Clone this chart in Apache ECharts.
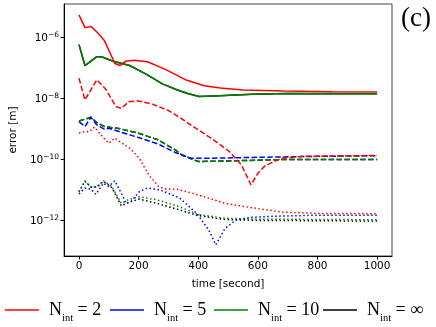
<!DOCTYPE html>
<html>
<head>
<meta charset="utf-8">
<script src="https://cdn.jsdelivr.net/npm/echarts@6/dist/echarts.min.js"></script>
<style>
  html, body { margin: 0; padding: 0; background: #fff; }
  #chart { width: 436px; height: 327px; }
</style>
</head>
<body>
<div id="chart"></div>
<script>
// [time (s), error (m)]
const n2Solid = [[0, 5.5e-6], [20, 2.1e-6], [40, 2.3e-6], [60, 1.5e-6], [85, 8.0e-7], [113, 2.0e-7],
  [120, 1.4e-7], [138, 1.2e-7], [155, 1.65e-7], [185, 1.8e-7], [230, 1.6e-7], [295, 8.5e-8], [360, 4.0e-8],
  [420, 2.6e-8], [475, 2.2e-8], [550, 1.9e-8], [685, 1.75e-8], [850, 1.65e-8], [1000, 1.62e-8]];
const n10Solid = [[0, 5.8e-7], [20, 1.2e-7], [60, 2.35e-7], [80, 2.25e-7], [115, 1.65e-7], [170, 1.2e-7],
  [225, 6.3e-8], [280, 3.0e-8], [330, 1.9e-8], [365, 1.45e-8], [403, 1.15e-8], [470, 1.23e-8],
  [580, 1.38e-8], [700, 1.45e-8], [1000, 1.42e-8]];
const infSolid = n10Solid; // hidden under the green line

const n2Dash = [[0, 4.6e-8], [20, 8.9e-9], [60, 4.1e-8], [90, 2.0e-8], [124, 5.4e-9], [142, 4.7e-9],
  [167, 7.8e-9], [200, 8.3e-9], [248, 6.4e-9], [300, 4.0e-9], [327, 2.8e-9], [380, 1.25e-9],
  [443, 5.0e-10], [505, 1.8e-10], [545, 6.6e-11], [577, 1.45e-11], [600, 3.5e-11], [625, 6.3e-11],
  [680, 1.1e-10], [750, 1.26e-10], [1000, 1.35e-10]];
const n5Dash = [[0, 1.74e-9], [20, 1.2e-9], [40, 2.4e-9], [60, 1.35e-9], [85, 9.8e-10], [100, 1.05e-9],
  [140, 7.9e-10], [200, 5.2e-10], [265, 3.2e-10], [325, 1.66e-10], [375, 1.1e-10], [450, 1.1e-10],
  [600, 1.17e-10], [800, 1.26e-10], [1000, 1.32e-10]];
const n10Dash = [[0, 1.82e-9], [40, 2.4e-9], [60, 1.6e-9], [85, 1.2e-9], [140, 1.0e-9], [200, 7.2e-10],
  [265, 4.4e-10], [325, 2.0e-10], [345, 1.4e-10], [400, 8.5e-11], [500, 8.9e-11], [700, 1.0e-10],
  [1000, 1.0e-10]];
const infDash = n10Dash; // hidden under the green line

const n2Dot = [[0, 7.2e-10], [17, 8.1e-10], [35, 8.1e-10], [52, 1.15e-9], [83, 5.0e-10], [100, 3.4e-10],
  [120, 5.0e-10], [137, 3.8e-10], [170, 2.35e-10], [202, 1.1e-10], [234, 3.1e-11], [267, 1.29e-11],
  [290, 1.07e-11], [330, 1.05e-11], [380, 7.8e-12], [445, 5.0e-12], [490, 3.6e-12], [580, 2.6e-12],
  [685, 1.86e-12], [800, 1.7e-12], [1000, 1.66e-12]];
const n5Dot = [[0, 7.4e-12], [20, 1.15e-11], [40, 1.05e-11], [57, 7.2e-12], [82, 1.66e-11], [99, 1.29e-11],
  [120, 2.0e-11], [142, 7.8e-12], [158, 3.6e-12], [175, 4.2e-12], [202, 8.7e-12], [230, 1.15e-11],
  [272, 1.0e-11], [338, 5.4e-12], [397, 1.62e-12], [435, 4.9e-13], [459, 1.58e-13], [490, 5.5e-13],
  [528, 1.05e-12], [580, 1.26e-12], [636, 1.35e-12], [800, 1.48e-12], [1000, 1.48e-12]];
const n10Dot = [[0, 8.7e-12], [20, 2.0e-11], [40, 1.23e-11], [61, 1.29e-11], [82, 2.0e-11], [110, 1.29e-11],
  [142, 3.6e-12], [164, 4.7e-12], [202, 6.0e-12], [262, 4.7e-12], [338, 2.8e-12], [397, 1.58e-12],
  [490, 1.17e-12], [600, 1.1e-12], [1000, 1.05e-12]];
const infDot = [[0, 8.7e-12], [20, 1.9e-11], [40, 1.23e-11], [61, 1.26e-11], [82, 1.9e-11], [110, 1.2e-11],
  [142, 3.0e-12], [164, 3.8e-12], [202, 5.0e-12], [262, 3.6e-12], [338, 2.2e-12], [397, 1.45e-12],
  [490, 1.07e-12], [600, 1.0e-12], [1000, 9.5e-13]];

const xTicks = [0, 200, 400, 600, 800, 1000];
const yTickExps = [-12, -10, -8, -6];
const legendNames = ['N2', 'N5', 'N10', 'Ninf'];
const legendValues = ['2', '5', '10', '\u221e'];
const legendLeft = [5, 110, 214, 323];

const colors = { N2: '#ff0000', N5: '#0000ff', N10: '#008000', Ninf: '#000000' };
const dashed = [5.5, 2.4];
const dotted = [1.5, 2.5];

function line(name, data, type) {
  return {
    name: name,
    type: 'line',
    data: data,
    color: colors[name],
    symbol: 'none',
    lineStyle: { width: 1.5, type: type, cap: 'butt' },
    z: 2
  };
}

let chart = echarts.init(document.getElementById('chart'));
let option = {
  animation: false,
  title: {
    text: '(c)', left: 396, top: 0,
    textStyle: { fontFamily: 'Liberation Serif', fontSize: 27, fontWeight: 'normal', color: '#000' }
  },
  grid: {
    left: 55, top: 4, width: 337, height: 252,
    show: true, borderColor: '#444', borderWidth: 1
  },
  legend: legendNames.map(function (n, i) {
    return {
      data: [n], left: legendLeft[i], top: 301,
      icon: 'rect', itemWidth: 34, itemHeight: 1.5, itemGap: 0, padding: 0,
      formatter: function () {
        return '{n|N}{s|int}{n2| = ' + legendValues[i] + '}';
      },
      textStyle: {
        rich: {
          n: { fontFamily: 'Liberation Serif', fontSize: 18, lineHeight: 27, color: '#000', padding: [0, 0, 0, 5] },
          s: { fontFamily: 'Liberation Serif', fontSize: 10.5, lineHeight: 10.5, verticalAlign: 'bottom', color: '#000' },
          n2: { fontFamily: 'Liberation Serif', fontSize: 18, lineHeight: 27, color: '#000' }
        }
      }
    };
  }),
  xAxis: {
    type: 'value', min: -50, max: 1050,
    name: 'time [second]', nameLocation: 'middle', nameGap: 23,
    nameTextStyle: { fontFamily: 'DejaVu Sans', fontSize: 10.5, color: '#000' },
    axisLine: { onZero: false, lineStyle: { color: '#000', width: 1 } },
    axisTick: { length: 3.5, lineStyle: { color: '#000' }, customValues: xTicks },
    axisLabel: {
      customValues: xTicks, margin: 5, fontFamily: 'DejaVu Sans', fontSize: 10.5, color: '#000',
      formatter: function (v) { return String(v); }
    },
    splitLine: { show: false }
  },
  yAxis: {
    type: 'log', logBase: 10, min: 6.8e-14, max: 1.25e-5,
    name: 'error [m]', nameLocation: 'middle', nameGap: 40,
    nameTextStyle: { fontFamily: 'DejaVu Sans', fontSize: 10.5, color: '#000' },
    axisLine: { onZero: false, lineStyle: { color: '#000', width: 1 } },
    axisTick: { length: 3.5, lineStyle: { color: '#000' }, customValues: yTickExps.map(e => Math.pow(10, e)) },
    axisLabel: {
      customValues: yTickExps.map(e => Math.pow(10, e)), margin: 5,
      formatter: function (v) {
        let e = Math.round(Math.log10(v));
        return '{b|10}{s|\u2212' + Math.abs(e) + '}';
      },
      rich: {
        b: { fontFamily: 'DejaVu Sans', fontSize: 10.5, lineHeight: 12, color: '#000', verticalAlign: 'bottom' },
        s: { fontFamily: 'DejaVu Sans', fontSize: 7.5, lineHeight: 8, color: '#000', verticalAlign: 'top' }
      }
    },
    splitLine: { show: false }
  },
  series: [
    line('Ninf', infSolid, 'solid'),
    line('Ninf', infDash, dashed),
    line('Ninf', infDot, dotted),
    line('N10', n10Solid, 'solid'),
    line('N10', n10Dash, dashed),
    line('N10', n10Dot, dotted),
    line('N5', n5Dash, dashed),
    line('N5', n5Dot, dotted),
    line('N2', n2Solid, 'solid'),
    line('N2', n2Dash, dashed),
    line('N2', n2Dot, dotted)
  ]
};
chart.setOption(option);
</script>
</body>
</html>
